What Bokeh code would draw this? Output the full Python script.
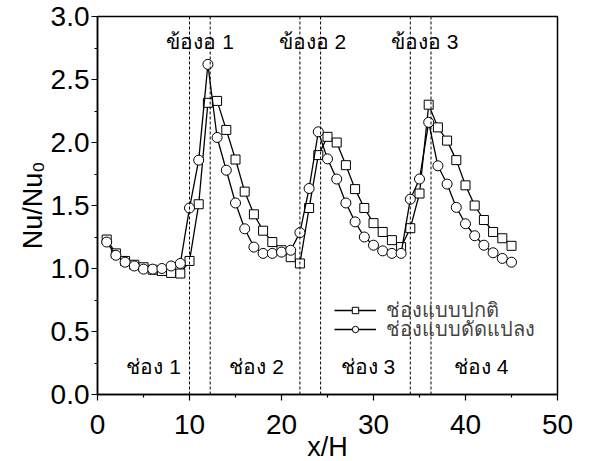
from bokeh.plotting import figure
from bokeh.models import Range1d, Span, Legend, LegendItem, ColumnDataSource, FixedTicker, CustomJSTickFormatter
from bokeh.core.properties import value
from bokeh.embed import file_html
from bokeh.resources import INLINE

x_pos = list(range(1, 46))
normal = [1.23, 1.12, 1.06, 1.03, 1.01, 0.99, 0.98, 0.965, 0.96, 1.06,
          1.51, 2.315, 2.33, 2.10, 1.865, 1.61, 1.43, 1.30, 1.21, 1.145,
          1.09, 1.04, 1.48, 1.90, 2.045, 2.00, 1.82, 1.63, 1.48, 1.36,
          1.29, 1.225, 1.17, 1.32, 1.595, 2.30, 2.12, 2.015, 1.86, 1.66,
          1.50, 1.385, 1.29, 1.24, 1.18]
modified = [1.21, 1.105, 1.05, 1.02, 0.995, 0.995, 1.00, 1.02, 1.04, 1.48,
            1.86, 2.62, 2.04, 1.78, 1.52, 1.315, 1.17, 1.12, 1.12, 1.13,
            1.145, 1.285, 1.635, 2.085, 1.87, 1.71, 1.52, 1.37, 1.25, 1.185,
            1.14, 1.12, 1.12, 1.55, 1.71, 2.16, 1.815, 1.67, 1.485, 1.355,
            1.26, 1.185, 1.125, 1.08, 1.05]
series_names = ["ช่องแบบปกติ", "ช่องแบบดัดแปลง"]

bend_lines = [10, 12.25, 22, 24.25, 34, 36.25]
bend_labels = ["ข้องอ 1", "ข้องอ 2", "ข้องอ 3"]
bend_label_x = [11.15, 23.35, 35.55]
bend_label_y = [2.80, 2.80, 2.80]
channel_labels = ["ช่อง 1", "ช่อง 2", "ช่อง 3", "ช่อง 4"]
channel_label_x = [6.1, 17.3, 29.4, 41.7]
channel_label_y = [0.22, 0.22, 0.22, 0.22]

x_ticks = [0, 10, 20, 30, 40, 50]
y_ticks = [0.0, 0.5, 1.0, 1.5, 2.0, 2.5, 3.0]

FONT = "Liberation Sans"

p = figure(output_backend="svg", toolbar_location=None,
           frame_width=460, frame_height=378,
           min_border_left=97, min_border_right=20, min_border_top=16, min_border_bottom=40,
           x_range=Range1d(0, 50), y_range=Range1d(0, 3.0))
p.grid.visible = False
p.outline_line_color = "black"
p.outline_line_width = 1.5
p.background_fill_color = "white"
p.border_fill_color = "white"

for ax in (p.xaxis[0], p.yaxis[0]):
    ax.axis_line_width = 1.5
    ax.major_tick_line_width = 1.2
    ax.minor_tick_line_width = 1.2
    ax.major_tick_out = 6
    ax.major_tick_in = 0
    ax.minor_tick_out = 3
    ax.minor_tick_in = 0
    ax.major_label_text_font = FONT
    ax.major_label_text_font_size = "28px"
    ax.major_label_text_color = "black"
    ax.axis_label_text_font = FONT
    ax.axis_label_text_font_size = "27px"
    ax.axis_label_text_font_style = "normal"
    ax.axis_label_text_color = "black"

p.xaxis.ticker = FixedTicker(ticks=x_ticks, minor_ticks=[v + 5 for v in x_ticks[:-1]])
p.yaxis.ticker = FixedTicker(ticks=y_ticks, minor_ticks=[v + 0.25 for v in y_ticks[:-1]])
p.yaxis.formatter = CustomJSTickFormatter(code="return tick.toFixed(1);")
p.xaxis.axis_label = "x/H"
p.yaxis.axis_label = "Nu/Nu₀"
p.xaxis.major_label_standoff = 14
p.yaxis.major_label_standoff = 2
p.xaxis.axis_label_standoff = -5
p.yaxis.axis_label_standoff = 0

for xv in bend_lines:
    p.add_layout(Span(location=xv, dimension="height", line_color="black",
                      line_width=1, line_dash="3 2"))

src_bend = ColumnDataSource(dict(x=bend_label_x, y=bend_label_y, t=bend_labels))
p.text("x", "y", text="t", source=src_bend, text_align="center", text_baseline="middle",
       text_font=value(FONT), text_font_size="21px", text_color="black")
src_ch = ColumnDataSource(dict(x=channel_label_x, y=channel_label_y, t=channel_labels))
p.text("x", "y", text="t", source=src_ch, text_align="center", text_baseline="middle",
       text_font=value(FONT), text_font_size="21px", text_color="black")

l1 = p.line(x_pos, normal, line_color="black", line_width=1.3)
m1 = p.scatter(x_pos, normal, marker="square", size=9, fill_color="white",
               line_color="black", line_width=1)
l2 = p.line(x_pos, modified, line_color="black", line_width=1.3)
m2 = p.scatter(x_pos, modified, marker="circle", size=10, fill_color="white",
               line_color="black", line_width=1)

def make_legend(label, rends, loc):
    return Legend(items=[LegendItem(label=label, renderers=rends)],
                  location=loc, orientation="vertical",
                  background_fill_alpha=0, border_line_alpha=0,
                  padding=0, spacing=0, margin=0,
                  glyph_width=42, glyph_height=16, label_height=16,
                  label_text_font=FONT, label_text_font_size="20px",
                  label_standoff=10, label_text_baseline="middle")

p.add_layout(make_legend(series_names[0], [l1, m1], (237, 68)))
p.add_layout(make_legend(series_names[1], [l2, m2], (237, 49)))

open("out.html", "w").write(file_html(p, INLINE))
